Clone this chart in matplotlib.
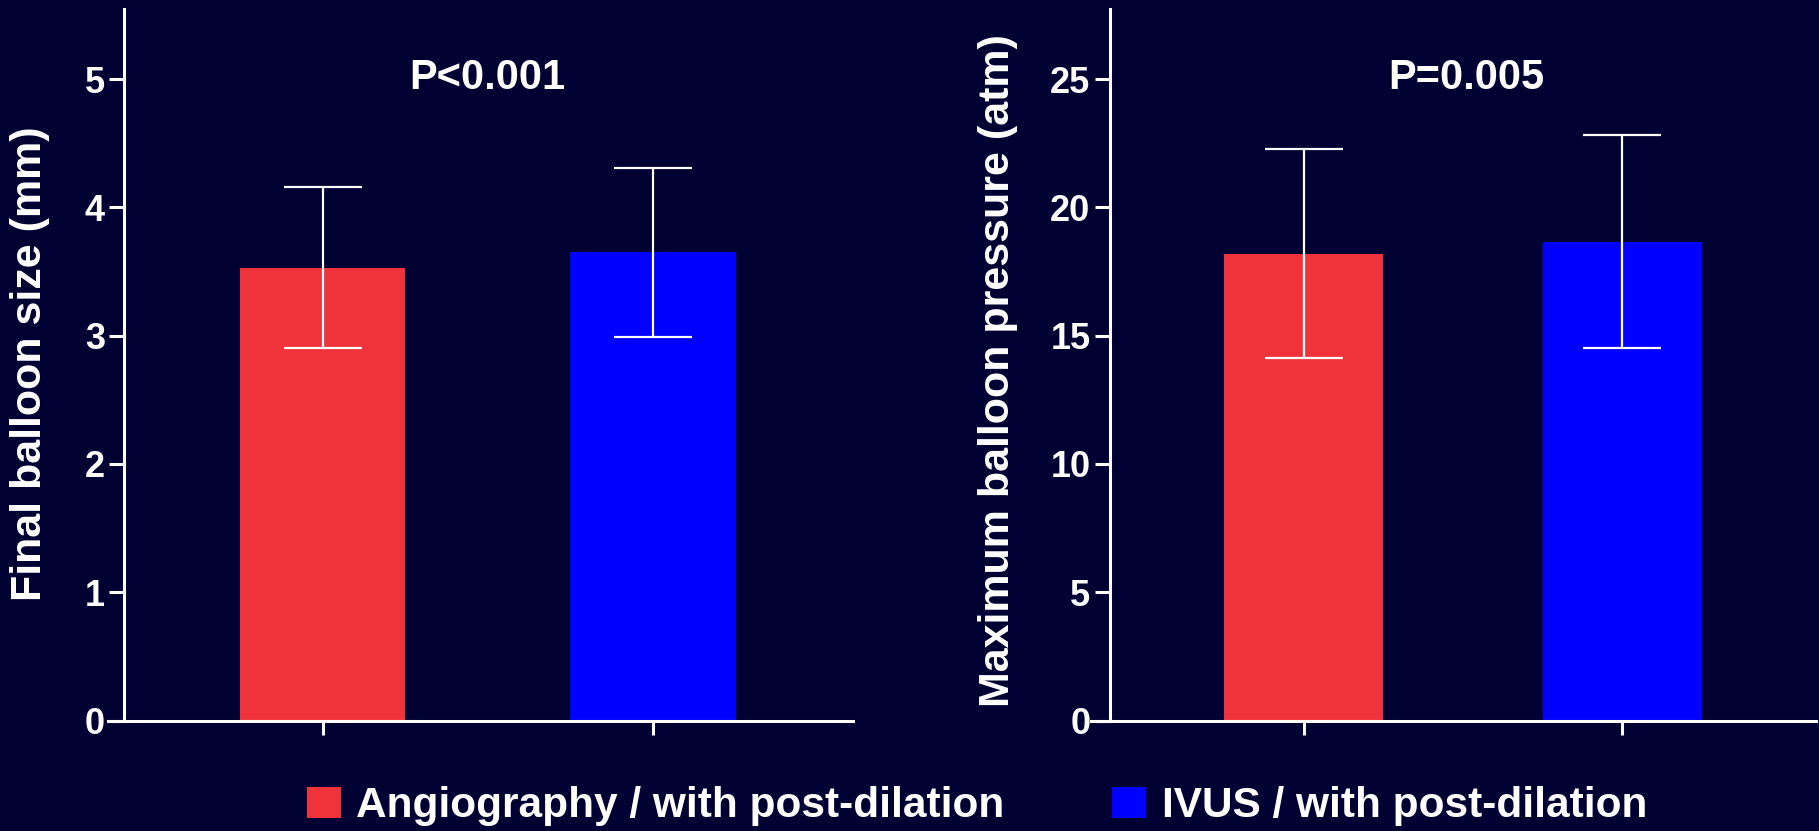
import matplotlib.pyplot as plt

plt.rcParams['font.family'] = ['Liberation Sans', 'DejaVu Sans']
plt.rcParams['font.weight'] = 'bold'

groups = ['Angiography / with post-dilation', 'IVUS / with post-dilation']
colors = ['#f0333a', '#0000ff']

balloon_size = [3.53, 3.65]
balloon_size_sd = [0.63, 0.66]
balloon_pressure = [18.2, 18.65]
balloon_pressure_sd = [4.07, 4.15]

size_ticks = [0, 1, 2, 3, 4, 5]
pressure_ticks = [0, 5, 10, 15, 20, 25]

bg = '#000033'
W, H = 1819, 831

fig = plt.figure(figsize=(W / 100, H / 100), dpi=100, facecolor=bg)


def make_panel(rect, vals, sds, ticks, ymax, xlim, spine_x, ptext, px):
    ax = fig.add_axes(rect)
    ax.set_facecolor(bg)
    x = [0, 1]
    bars = ax.bar(x, vals, width=0.5, color=colors, zorder=2)
    ax.errorbar(x, vals, yerr=sds, fmt='none', ecolor='white',
                elinewidth=1.6, capsize=28, capthick=1.6, zorder=3)
    ax.set_xlim(*xlim)
    ax.set_ylim(0, ymax)
    ax.set_yticks(ticks)
    ax.set_xticks(x)
    ax.set_xticklabels([])
    for s in ['top', 'right']:
        ax.spines[s].set_visible(False)
    ax.spines['left'].set_position(('data', spine_x))
    for s in ['left', 'bottom']:
        ax.spines[s].set_color('white')
        ax.spines[s].set_linewidth(2.2)
    ax.tick_params(axis='y', colors='white', length=11, width=2.2,
                   labelsize=26, pad=3)
    ax.tick_params(axis='x', colors='white', length=10, width=2.2)
    ax.text(px, 0.903, ptext, color='white', fontsize=30, fontweight='bold',
            ha='center', va='center', transform=ax.get_xaxis_transform())
    return ax, bars


ax1, bars1 = make_panel([108 / W, 1 - 720.5 / H, 745 / W, 711.5 / H],
                        balloon_size, balloon_size_sd, size_ticks, 5.546,
                        (-0.649, 1.605), -0.6, 'P<0.001', 0.5)
ax2, bars2 = make_panel([1090.5 / W, 1 - 720.5 / H, 725 / W, 711.5 / H],
                        balloon_pressure, balloon_pressure_sd, pressure_ticks, 27.73,
                        (-0.671, 1.608), -0.61, 'P=0.005', 0.51)

fig.text(30 / W, 1 - 364 / H, 'Final balloon size (mm)', rotation=90,
         color='white', fontsize=31, fontweight='bold', ha='center', va='center')
fig.text(998 / W, 1 - 371 / H, 'Maximum balloon pressure (atm)', rotation=90,
         color='white', fontsize=31, fontweight='bold', ha='center', va='center')

handles = [bars1[0], bars1[1]]
fig.legend(handles, groups, loc='center', bbox_to_anchor=(977 / W, 1 - 806 / H),
           ncol=2, frameon=False, fontsize=30.5, labelcolor='white',
           handlelength=0.8, handleheight=0.75, handletextpad=0.36,
           columnspacing=2.55, borderpad=0, borderaxespad=0)

fig.savefig('out.png', dpi=100, facecolor=bg)
